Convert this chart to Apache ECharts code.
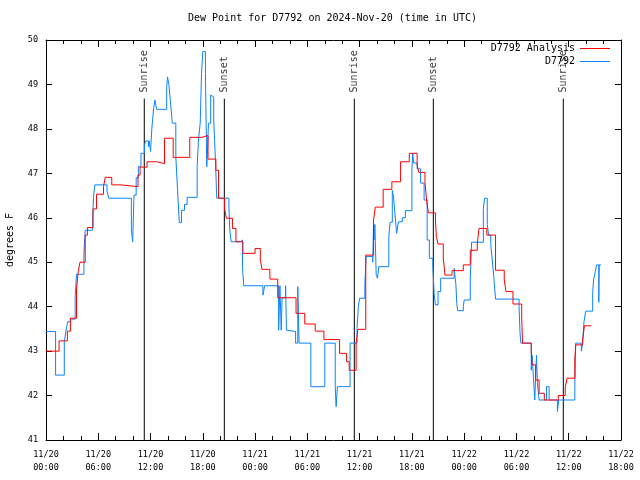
<!DOCTYPE html>
<html><head><meta charset="utf-8">
<script src="https://cdn.jsdelivr.net/npm/echarts@6/dist/echarts.min.js"></script>
<style>html,body{margin:0;padding:0;background:#fff}#c{width:640px;height:480px}</style>
</head><body><div id="c"></div>
<script>
const xTickLabels = ['11/20\n00:00','11/20\n06:00','11/20\n12:00','11/20\n18:00','11/21\n00:00','11/21\n06:00','11/21\n12:00','11/21\n18:00','11/22\n00:00','11/22\n06:00','11/22\n12:00','11/22\n18:00'];

// hours since 2024-11-20 00:00 UTC
const analysisHours = [0, 1.5, 2.45, 2.8, 3.5, 3.7, 3.9, 4.5, 4.75, 5.4, 5.8, 6.6, 6.8, 7.55, 8.6, 10.56, 10.8, 11.6, 12.7, 13.6, 14.6, 16.5, 17.9, 18.6, 19.5, 19.8, 20.5, 20.7, 21.4, 21.8, 22.6, 24.0, 24.6, 24.8, 25.7, 26.6, 28.7, 29.7, 30.9, 31.9, 33.7, 34.5, 34.8, 35.6, 35.8, 36.7, 37.6, 37.8, 38.7, 39.7, 40.7, 41.7, 42.6, 42.8, 43.5, 43.7, 43.9, 44.7, 44.8, 45.0, 45.6, 45.8, 46.6, 47.9, 48.7, 49.5, 49.7, 50.6, 51.6, 52.6, 52.8, 53.6, 54.6, 54.7, 55.7, 55.8, 56.2, 56.6, 57.2, 58.8, 59.6, 59.8, 60.7, 60.8, 61.6, 61.8, 62.6];
const analysisValues = [43.0, 43.23, 43.45, 43.74, 44.4, 44.79, 45.0, 45.61, 45.78, 46.2, 46.53, 46.7, 46.91, 46.74, 46.70, 46.96, 47.14, 47.26, 47.22, 47.79, 47.36, 47.81, 47.85, 47.32, 47.07, 46.44, 46.2, 45.99, 45.76, 45.46, 45.2, 45.31, 45.05, 44.84, 44.62, 44.2, 43.85, 43.61, 43.45, 43.26, 42.95, 42.76, 42.57, 43.18, 43.49, 45.16, 45.95, 46.24, 46.64, 46.81, 47.26, 47.45, 47.19, 47.02, 46.79, 46.36, 46.11, 45.95, 45.58, 45.41, 45.09, 44.71, 44.81, 44.94, 45.27, 45.41, 45.76, 45.61, 44.82, 44.6, 44.34, 44.06, 43.77, 43.18, 42.99, 42.69, 42.35, 42.05, 41.9, 42.0, 42.18, 42.39, 42.8, 43.14, 43.25, 43.57, 43.57];

const stationHours = [0, 1.1, 2.1, 2.3, 2.5, 2.8, 3.35, 3.5, 4.35, 4.5, 5.35, 5.45, 5.6, 7.0, 7.2, 9.8, 9.95, 10.1, 10.35, 10.6, 10.9, 11.3, 11.45, 11.75, 11.85, 12.0, 12.15, 12.35, 12.5, 12.7, 13.85, 13.95, 14.1, 14.3, 14.5, 14.9, 15.1, 15.3, 15.55, 15.9, 16.2, 17.35, 17.5, 17.7, 17.85, 18.0, 18.3, 18.45, 18.55, 18.65, 18.9, 19.1, 19.25, 19.45, 19.6, 21.0, 21.1, 21.25, 22.3, 22.55, 22.7, 24.9, 25.1, 26.7, 26.85, 27.0, 27.1, 27.5, 27.6, 27.8, 28.65, 28.9, 29.05, 30.4, 32.0, 33.2, 33.3, 33.45, 34.9, 35.7, 35.85, 36.0, 36.6, 36.75, 37.5, 37.6, 37.65, 37.75, 37.9, 38.05, 38.2, 39.35, 39.5, 39.75, 39.9, 40.05, 40.25, 40.45, 40.9, 41.25, 42.0, 42.1, 42.2, 42.6, 43.0, 43.4, 43.75, 44.0, 44.4, 44.55, 44.7, 45.0, 45.3, 46.85, 47.05, 47.15, 47.25, 47.9, 48.0, 48.7, 48.85, 50.2, 50.35, 50.65, 50.8, 51.05, 51.2, 51.4, 51.6, 54.3, 54.4, 54.5, 55.7, 55.8, 55.95, 56.1, 56.3, 56.4, 56.6, 57.45, 57.75, 58.7, 58.85, 60.7, 60.8, 61.45, 61.6, 61.75, 61.95, 62.75, 62.85, 63.05, 63.2, 63.45, 63.5, 63.7];
const stationValues = [43.44, 42.46, 43.21, 43.47, 43.66, 43.72, 44.22, 44.73, 45.2, 45.72, 45.95, 46.46, 46.74, 46.6, 46.44, 45.72, 45.46, 46.51, 46.9, 47.15, 47.45, 47.64, 47.73, 47.6, 47.73, 47.49, 48.01, 48.46, 48.65, 48.44, 48.95, 49.17, 49.0, 48.58, 48.13, 47.38, 46.62, 45.89, 46.17, 46.3, 46.46, 47.15, 47.75, 48.13, 49.25, 49.74, 49.25, 47.15, 47.6, 48.13, 48.76, 48.72, 48.2, 47.3, 46.44, 46.2, 45.72, 45.46, 45.5, 44.9, 44.47, 44.26, 44.47, 43.47, 44.47, 43.47, 44.2, 44.47, 43.47, 43.44, 43.18, 44.45, 43.18, 42.2, 43.18, 42.2, 41.75, 42.2, 43.18, 43.5, 44.0, 44.19, 44.5, 45.13, 45.0, 45.88, 45.5, 45.85, 44.71, 44.64, 44.9, 45.58, 45.9, 46.62, 46.45, 46.1, 45.65, 45.91, 46.0, 46.16, 47.1, 47.45, 47.23, 47.1, 46.78, 46.4, 45.5, 45.09, 44.9, 44.3, 44.04, 44.34, 44.64, 44.86, 44.5, 44.07, 43.91, 44.0, 44.15, 44.6, 45.45, 46.21, 46.44, 45.85, 45.61, 45.4, 45.1, 44.67, 44.17, 44.0, 43.44, 43.18, 42.57, 42.9, 42.4, 41.9, 42.91, 42.3, 41.9, 42.2, 41.9, 41.64, 41.9, 42.2, 43.18, 43.0, 43.18, 43.66, 43.9, 44.3, 44.6, 44.79, 44.94, 44.1, 44.94, 44.94];

const sunHours = [11.28, 20.47, 35.39, 44.46, 59.38];
const sunNames = ['Sunrise', 'Sunset', 'Sunrise', 'Sunset', 'Sunrise'];
const sunLineTop = 48.68;
const sunLabelBase = 48.82;

const FONT = "'DejaVu Sans Mono', 'Liberation Mono', monospace";
const zip = (a, b) => a.map((v, i) => [v, b[i]]);

const chart = echarts.init(document.getElementById('c'), null, {renderer: 'canvas'});

const xCommon = {
  type: 'value', min: 0, max: 66, interval: 6,
  axisLine: {show: true, onZero: false, lineStyle: {color: '#000', width: 1}},
  axisTick: {show: true, inside: true, length: 7, lineStyle: {color: '#000'}},
  minorTick: {show: true, splitNumber: 3, length: 4, lineStyle: {color: '#000'}},
  splitLine: {show: false}
};
const yCommon = {
  type: 'value', min: 41, max: 50, interval: 1,
  axisLine: {show: true, onZero: false, lineStyle: {color: '#000', width: 1}},
  axisTick: {show: true, inside: true, length: 6, lineStyle: {color: '#000'}},
  splitLine: {show: false}
};

const sunLineSeries = sunHours.map(h => ({
  type: 'line', data: [[h, 41], [h, sunLineTop]], symbol: 'none', silent: true,
  lineStyle: {color: '#000', width: 1}, z: 1, animation: false
}));

chart.setOption({
  animation: false,
  backgroundColor: '#fff',
  title: {
    text: 'Dew Point for D7792 on 2024-Nov-20 (time in UTC)',
    left: 188, top: 13, padding: 0,
    textStyle: {fontFamily: FONT, fontSize: 10, fontWeight: 'normal', color: '#000'}
  },
  legend: {
    data: [
      {name: 'D7792 Analysis', icon: 'rect', itemStyle: {color: '#ff0000'}},
      {name: 'D7792', icon: 'rect', itemStyle: {color: '#0a84ff'}}
    ],
    orient: 'vertical', align: 'right', right: 30, top: 43,
    itemWidth: 30, itemHeight: 1, itemGap: 2, padding: 0,
    textStyle: {fontFamily: FONT, fontSize: 10, color: '#000', lineHeight: 11}
  },
  grid: {left: 46, right: 19, top: 40, bottom: 40, containLabel: false, outerBoundsMode: 'none'},
  xAxis: [
    Object.assign({}, xCommon, {
      position: 'bottom',
      axisLabel: {
        show: true, margin: 8, color: '#000', fontFamily: FONT, fontSize: 8.5, lineHeight: 13,
        formatter: v => xTickLabels[Math.round(v / 6)] || ''
      }
    }),
    Object.assign({}, xCommon, {position: 'top', axisLabel: {show: false}})
  ],
  yAxis: [
    Object.assign({}, yCommon, {
      position: 'left',
      name: 'degrees F', nameLocation: 'middle', nameGap: 31, nameRotate: 90,
      nameTextStyle: {fontFamily: FONT, fontSize: 10, color: '#000'},
      axisLabel: {show: true, margin: 8, color: '#000', fontFamily: FONT, fontSize: 8.5}
    }),
    Object.assign({}, yCommon, {position: 'right', axisLabel: {show: false}})
  ],
  series: sunLineSeries.concat([
    {
      type: 'scatter', symbolSize: 0, silent: true, z: 5,
      data: sunHours.map((h, i) => ({value: [h, sunLabelBase], name: sunNames[i]})),
      label: {
        show: true, position: 'inside', rotate: 90, align: 'left', verticalAlign: 'middle',
        formatter: p => p.name, fontFamily: FONT, fontSize: 10, color: '#000'
      }
    },
    {
      name: 'D7792 Analysis', type: 'line', step: 'end', symbol: 'none',
      data: zip(analysisHours, analysisValues),
      lineStyle: {color: '#ff0000', width: 1}, itemStyle: {color: '#ff0000'}, z: 3
    },
    {
      name: 'D7792', type: 'line', step: 'end', symbol: 'none',
      data: zip(stationHours, stationValues),
      lineStyle: {color: '#0a84ff', width: 1}, itemStyle: {color: '#0a84ff'}, z: 2
    }
  ])
});
</script>
</body></html>
